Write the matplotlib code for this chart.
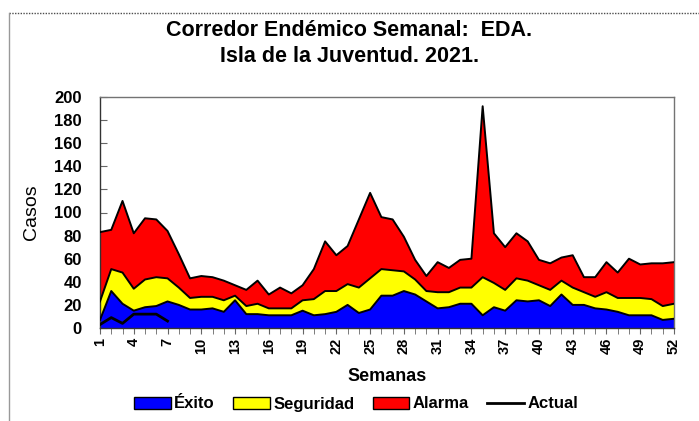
import numpy as np
import matplotlib
matplotlib.use("Agg")
import matplotlib.pyplot as plt
from matplotlib.lines import Line2D
from matplotlib.patches import Patch

plt.rcParams["font.family"] = ["Liberation Sans", "DejaVu Sans"]
plt.rcParams["font.weight"] = "bold"

# ---- data ----------------------------------------------------------------
semanas = np.arange(1, 53)
alarma = [83, 85, 110, 82, 95, 94, 84, 64, 43, 45, 44, 41, 37, 33, 41, 29,
          35, 30, 37, 51, 75, 63, 71, 94, 117, 96, 94, 79, 59, 45, 57, 52,
          59, 60, 192, 82, 70, 82, 75, 59, 56, 61, 63, 44, 44, 57, 48, 60,
          55, 56, 56, 57]
seguridad = [23, 51, 48, 34, 42, 44, 43, 35, 26, 27, 27, 24, 28, 19, 21, 17,
             17, 17, 24, 25, 32, 32, 38, 35, 43, 51, 50, 49, 42, 32, 31, 31,
             35, 35, 44, 39, 33, 43, 41, 37, 33, 41, 35, 31, 27, 31, 26, 26,
             26, 25, 19, 21]
exito = [7, 32, 21, 15, 18, 19, 23, 20, 16, 16, 17, 14, 24, 12, 12, 11,
         11, 11, 15, 11, 12, 14, 20, 13, 16, 28, 28, 32, 29, 23, 17, 18,
         21, 21, 11, 18, 15, 24, 23, 24, 19, 29, 20, 20, 17, 16, 14, 11,
         11, 11, 7, 8]
actual_sem = [1, 2, 3, 4, 5, 6, 7]
actual = [3, 9, 4, 12, 12, 12, 6]
xticks = np.arange(1, 53, 3)

# ---- figure ----------------------------------------------------------------
fig = plt.figure(figsize=(6.99, 4.21), dpi=100)
ax = fig.add_axes([100 / 699, 1 - 328 / 421, 574 / 699, 231 / 421])

for serie, col in [(alarma, "#FF0000"), (seguridad, "#FFFF00"), (exito, "#0000FF")]:
    ax.fill_between(semanas, 0, serie, facecolor=col, edgecolor="none", zorder=2)
    ax.plot(semanas, serie, color="k", lw=1.4, zorder=3)
ax.plot(actual_sem, actual, color="k", lw=2, zorder=4)

ax.set_xlim(1, 52)
ax.set_ylim(0, 200)
ax.set_yticks(np.arange(0, 201, 20))
ax.set_xticks(xticks)
ax.set_xticks(semanas, minor=True)
ax.tick_params(axis="y", direction="in", length=5, labelsize=12, pad=13,
               color="0.4")
ax.tick_params(axis="x", which="both", direction="out", length=4, color="0.4",
               labelsize=10.5, pad=3, labelrotation=90)
for sp in ax.spines.values():
    sp.set_color("0.45")
    sp.set_linewidth(1)
ax.spines["left"].set_color("0.2")
ax.spines["bottom"].set_color("0.2")

ax.set_xlabel("Semanas", fontsize=13, fontweight="bold", labelpad=10)
ax.set_ylabel("Casos", fontsize=14, fontweight="normal", labelpad=10)

fig.text(0.5, 1 - 30 / 421, "Corredor Endémico Semanal:  EDA.", ha="center",
         va="center", fontsize=15.5, fontweight="bold")
fig.text(0.5, 1 - 57 / 421, "Isla de la Juventud. 2021.", ha="center",
         va="center", fontsize=15.5, fontweight="bold")

handles = [Patch(facecolor="#0000FF", edgecolor="k", lw=1),
           Patch(facecolor="#FFFF00", edgecolor="k", lw=1),
           Patch(facecolor="#FF0000", edgecolor="k", lw=1),
           Line2D([0], [0], color="k", lw=2)]
fig.legend(handles, ["Éxito", "Seguridad", "Alarma", "Actual"], ncol=4,
           loc="center", bbox_to_anchor=(356 / 699, 1 - 404 / 421),
           frameon=False, fontsize=12, handlelength=2.2, handleheight=0.7,
           handletextpad=0.2, columnspacing=1.1)

# outer frame of the pasted chart
fig.add_artist(Line2D([9 / 699, 1], [1 - 13 / 421] * 2, color="0.3", lw=1,
                      ls=(0, (1, 1)), transform=fig.transFigure))
fig.add_artist(Line2D([9 / 699] * 2, [0, 1 - 13 / 421], color="0.6", lw=1,
                      transform=fig.transFigure))

fig.savefig("out.png", dpi=100)
